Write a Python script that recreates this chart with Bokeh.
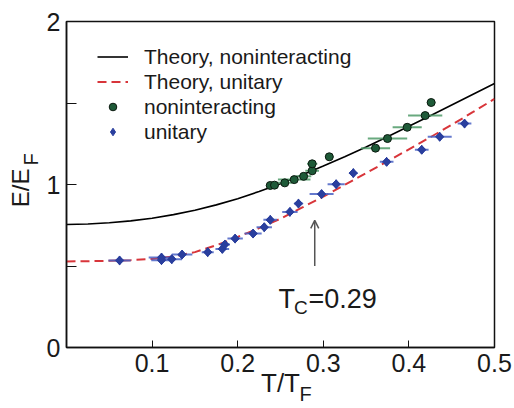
import numpy as np
from bokeh.plotting import figure
from bokeh.models import (Legend, LegendItem, Label, Arrow, OpenHead,
                          FixedTicker, Range1d, LinearAxis)
from bokeh.embed import file_html
from bokeh.resources import INLINE

FONT = "Liberation Sans"
INK = "#1a1a1a"
NBSP = "\u00a0"

# Theory curves (E/E_F versus T/T_F)
theory_T = [0.0, 0.025, 0.05, 0.075, 0.1, 0.125, 0.15, 0.175, 0.2, 0.225, 0.25,
            0.275, 0.3, 0.325, 0.35, 0.375, 0.4, 0.425, 0.45, 0.475, 0.5]
theory_nonint_E = [0.755, 0.758, 0.765, 0.777, 0.793, 0.815, 0.842, 0.875, 0.913, 0.957, 1.005,
                   1.058, 1.113, 1.17, 1.23, 1.293, 1.357, 1.422, 1.488, 1.554, 1.62]
theory_unit_E = [0.528, 0.529, 0.532, 0.536, 0.543, 0.558, 0.585, 0.627, 0.678, 0.732, 0.79,
                 0.858, 0.926, 0.998, 1.07, 1.142, 1.216, 1.29, 1.366, 1.445, 1.525]

# Measured noninteracting gas
nonint_T = [0.238, 0.243, 0.255, 0.266, 0.277, 0.287, 0.287, 0.307, 0.361, 0.375, 0.398, 0.419, 0.426]
nonint_E = [0.994, 0.996, 1.01, 1.03, 1.05, 1.084, 1.127, 1.17, 1.223, 1.282, 1.351, 1.423, 1.503]
nonint_dT = [0.005, 0.005, 0.009, 0.019, 0.009, 0.008, 0.006, 0.005, 0.017, 0.023, 0.017, 0.02, 0.005]

# Measured unitary gas
unit_T = [0.062, 0.111, 0.111, 0.123, 0.135, 0.165, 0.182, 0.185, 0.197, 0.218, 0.231,
          0.238, 0.261, 0.271, 0.298, 0.315, 0.335, 0.374, 0.415, 0.436, 0.465]
unit_E = [0.534, 0.552, 0.536, 0.542, 0.570, 0.585, 0.605, 0.632, 0.668, 0.699, 0.738,
          0.783, 0.832, 0.883, 0.941, 1.002, 1.07, 1.139, 1.213, 1.293, 1.374]
unit_dT = [0.013, 0.015, 0.012, 0.012, 0.012, 0.007, 0.008, 0.006, 0.009, 0.010, 0.009,
           0.008, 0.009, 0.005, 0.014, 0.010, 0.005, 0.008, 0.008, 0.014, 0.008]

T_c = 0.29

x_ticks = [0.1, 0.2, 0.3, 0.4, 0.5]
y_ticks = [0, 1, 2]
y_minor = [0.5, 1.5]

p = figure(width=514, height=408, x_range=Range1d(0, 0.5), y_range=Range1d(0, 2),
           output_backend="svg", toolbar_location=None,
           min_border_left=66, min_border_right=20, min_border_top=21, min_border_bottom=61)
p.grid.visible = False
p.outline_line_color = "#111111"
p.outline_line_width = 1.5
p.background_fill_color = "white"
p.border_fill_color = "white"

for ax in (p.xaxis, p.yaxis):
    ax.axis_line_color = "#111111"
    ax.axis_line_width = 1.5
    ax.major_tick_line_color = "#111111"
    ax.minor_tick_line_color = "#111111"
    ax.major_tick_out = 0
    ax.minor_tick_out = 0
    ax.major_label_text_font = FONT
    ax.major_label_text_font_size = "25px"
    ax.major_label_text_color = INK
    ax.axis_label_text_font = FONT
    ax.axis_label_text_font_style = "normal"
    ax.axis_label_text_color = INK

# bottom axis: ticks, tick labels and the "T/T" title
p.xaxis.ticker = FixedTicker(ticks=x_ticks, minor_ticks=[])
p.xaxis.major_tick_in = 7
p.xaxis.minor_tick_in = 0
p.xaxis.major_label_standoff = 6
p.xaxis.axis_label = "T/T"
p.xaxis.axis_label_text_font_size = "26px"
p.xaxis.axis_label_standoff = -7

# left axis: ticks, tick labels and the subscript of the title
p.yaxis.ticker = FixedTicker(ticks=y_ticks, minor_ticks=y_minor)
p.yaxis.major_tick_in = 10
p.yaxis.minor_tick_in = 10
p.yaxis.major_label_standoff = 6
p.yaxis.axis_label = NBSP * 9 + "F"
p.yaxis.axis_label_text_font_size = "20px"
p.yaxis.axis_label_standoff = 2


def title_axis(text, size, standoff):
    """An axis that carries only a title (used for subscripts / stacked titles)."""
    return LinearAxis(ticker=FixedTicker(ticks=[]), axis_label=text,
                      axis_label_text_font=FONT, axis_label_text_font_size=size,
                      axis_label_text_font_style="normal", axis_label_text_color=INK,
                      axis_label_standoff=standoff, axis_line_color=None,
                      major_tick_in=0, major_tick_out=0, minor_tick_in=0, minor_tick_out=0,
                      major_label_standoff=0)


p.add_layout(title_axis(NBSP * 9 + "F", "20px", -18), "below")
p.add_layout(title_axis("E/E" + NBSP, "24px", -17), "left")

# theory
r_th_n = p.line(theory_T, theory_nonint_E, line_color="black", line_width=1.6)
r_th_u = p.line(theory_T, theory_unit_E, line_color="#d8353a", line_width=2,
                line_dash="9 5")

# error bars
nT = np.array(nonint_T); nd = np.array(nonint_dT)
uT = np.array(unit_T); ud = np.array(unit_dT)
p.segment(x0=uT - ud, x1=uT + ud, y0=unit_E, y1=unit_E,
          line_color="#4a62c4", line_width=2, line_alpha=0.85)
p.segment(x0=nT - nd, x1=nT + nd, y0=nonint_E, y1=nonint_E,
          line_color="#4f9a68", line_width=2, line_alpha=0.85)

# points
r_n = p.scatter(nonint_T, nonint_E, marker="circle", size=8,
                fill_color="#1e5a38", line_color="#0c1a10", line_width=1)
p.scatter(unit_T, unit_E, marker="square", size=6, angle=np.pi / 4,
          fill_color="#2a3f9e", line_color="#2a3f9e", line_width=1)
r_u = p.scatter(unit_T, unit_E, marker="diamond", size=9,
                fill_color="#2a3f9e", line_color="#2a3f9e", line_width=1)

legend = Legend(items=[
    LegendItem(label="Theory, noninteracting", renderers=[r_th_n]),
    LegendItem(label="Theory, unitary", renderers=[r_th_u]),
    LegendItem(label="noninteracting", renderers=[r_n]),
    LegendItem(label="unitary", renderers=[r_u]),
], location=(31, 203), padding=0, margin=0, spacing=0,
    label_height=25, glyph_height=19, glyph_width=31, label_standoff=16,
    label_text_font=FONT, label_text_font_size="21px", label_text_color=INK,
    background_fill_alpha=0, border_line_alpha=0)
p.add_layout(legend)

# T_c marker
p.add_layout(Arrow(end=OpenHead(size=8, line_color="#555555", line_width=1.5),
                   x_start=T_c, y_start=0.50, x_end=T_c, y_end=0.78,
                   line_color="#555555", line_width=1.5))
p.add_layout(Label(x=0.2477, y=0.3006, text="T", text_font=FONT, text_font_size="27px",
                   text_color=INK, text_baseline="alphabetic"))
p.add_layout(Label(x=0.2658, y=0.2454, text="C", text_font=FONT, text_font_size="19px",
                   text_color=INK, text_baseline="alphabetic"))
p.add_layout(Label(x=0.2827, y=0.3006, text="=%.2f" % T_c, text_font=FONT,
                   text_font_size="27px", text_color=INK, text_baseline="alphabetic"))

open("out.html", "w").write(file_html(p, INLINE))
